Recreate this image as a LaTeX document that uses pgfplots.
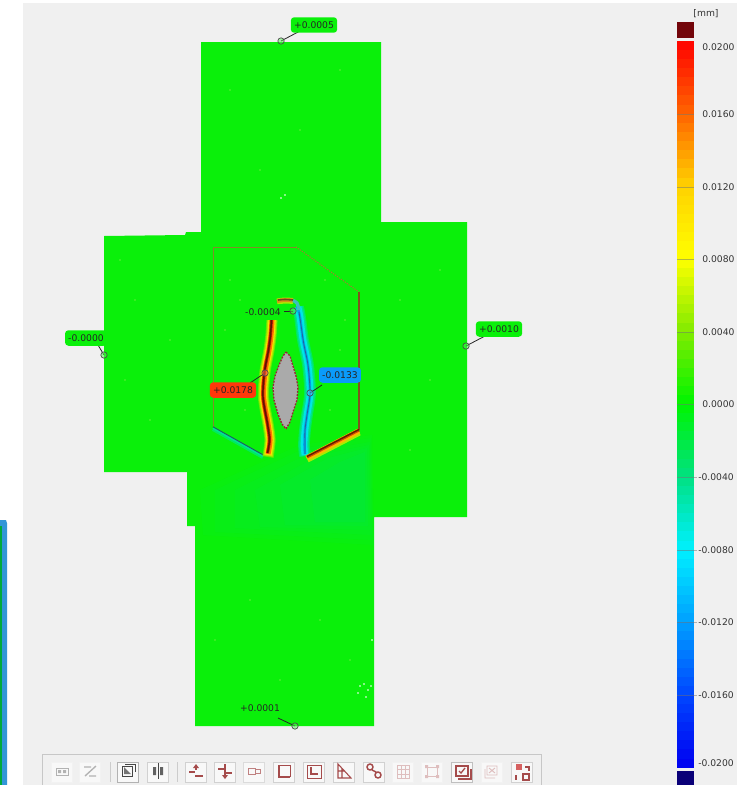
\documentclass[border=0pt]{standalone}
\usepackage{pgfplots}
\pgfplotsset{compat=1.18}
\usepackage{fontspec}
\setmainfont{DejaVu Sans}
\definecolor{panel}{RGB}{240,240,240}
\definecolor{mapg}{RGB}{10,240,10}
\definecolor{tealA}{RGB}{0,225,120}
\definecolor{iconr}{RGB}{165,75,75}
\definecolor{iconoff}{RGB}{222,190,190}
\definecolor{icongr}{RGB}{70,70,70}
\definecolor{labred}{RGB}{255,55,10}
\definecolor{labblue}{RGB}{10,155,250}
\definecolor{c0}{RGB}{95,235,0}
\definecolor{c1}{RGB}{170,235,0}
\definecolor{c2}{RGB}{250,225,0}
\definecolor{c3}{RGB}{255,120,0}
\definecolor{c4}{RGB}{190,30,0}
\definecolor{c5}{RGB}{95,20,0}
\definecolor{b0}{RGB}{0,235,90}
\definecolor{b1}{RGB}{0,225,150}
\definecolor{b2}{RGB}{0,230,230}
\definecolor{b3}{RGB}{0,165,235}
\definecolor{b4}{RGB}{35,105,150}
\newcommand{\ZZbtn}[2]{\draw[draw=#2,fill=white!50!panel,line width=0.5pt] ({#1-10.5},762) rectangle ({#1+10.5},782);}
\newcommand{\ZZlab}[8]{%
  \draw[black!85,line width=0.6pt] (#1,#2) -- (#3,#4);
  \draw[black!70,fill=#7!70!white,fill opacity=0.5,line width=0.5pt] (#1,#2) circle[radius=3.2];
  \node[fill=#7,rounded corners=2.5pt,inner xsep=2.4pt,inner ysep=3.2pt,text=black!85,font=\fontsize{6.9}{8}\selectfont] at (#5,#6) {#8};}
\newcommand{\ZZtick}[3]{\node[anchor=west,text=black!80,inner sep=0pt,font=\fontsize{6.9}{8}\selectfont] at (#1,#2) {#3};}
\begin{document}
\begin{tikzpicture}
\begin{axis}[
  scale only axis, width=564.75pt, height=588.75pt,
  xmin=0, xmax=753, ymin=0, ymax=785, y dir=reverse,
  hide axis, clip=true,
  colormap={dev}{rgb255=(0,0,240) rgb255=(0,70,255) rgb255=(0,160,255) rgb255=(0,240,255) rgb255=(0,225,130) rgb255=(0,245,0) rgb255=(130,235,0) rgb255=(255,255,0) rgb255=(255,210,0) rgb255=(255,100,0) rgb255=(255,0,0)},
  point meta min=-20, point meta max=20,
]
\addplot[draw=none,fill=white] coordinates {(0,0)(753,0)(753,785)(0,785)} --cycle;
\draw[white,line width=0pt] (0,0) rectangle (753,785);
\addplot[draw=none,fill=panel] coordinates {(23,3)(737,3)(737,785)(23,785)} --cycle;
\addplot[draw=none,fill={rgb,255:red,50;green,150;blue,215}] coordinates {(0,520)(6,520)(7,523)(7,785)(0,785)} --cycle;
\addplot[draw=none,fill={rgb,255:red,0;green,170;blue,60}] coordinates {(0,526)(1.5,526)(1.5,785)(0,785)} --cycle;
\addplot[draw=none,fill=mapg] coordinates {(201,42)(381,42)(381,222)(467,222)(467,517)(374,517)(374,726)(195,726)(195,526)(187,526)(187,472)(104,472)(104,236)(185,235)(186,232)(201,232)} --cycle;
\addplot[draw=none,fill=tealA,opacity=0.06] coordinates {(200,490)(300,445)(372,435)(374,545)(203,535)} --cycle;
\addplot[draw=none,fill=tealA,opacity=0.06] coordinates {(215,490)(305,448)(371,438)(373,540)(215,532)} --cycle;
\addplot[draw=none,fill=tealA,opacity=0.07] coordinates {(235,490)(312,452)(370,442)(372,535)(235,528)} --cycle;
\addplot[draw=none,fill=tealA,opacity=0.07] coordinates {(255,490)(320,455)(369,445)(370,530)(260,527)} --cycle;
\addplot[draw=none,fill=tealA,opacity=0.09] coordinates {(280,485)(328,458)(367,448)(368,526)(285,525)} --cycle;
\addplot[draw=none,fill=tealA,opacity=0.11] coordinates {(310,480)(340,462)(365,452)(365,522)(315,522)} --cycle;
\addplot[only marks,mark=*,mark size=0.45pt,white,opacity=0.8] coordinates {(360,686)(364,684)(368,690)(358,693)(366,697)(371,686)(285,195)(281,198)(372,640)};
\addplot[only marks,mark=*,mark size=0.3pt,color={rgb,255:red,90;green,240;blue,50}] coordinates {(120,260)(135,300)(150,420)(125,380)(170,340)(230,280)(240,300)(225,330)(245,410)(325,280)(345,320)(330,410)(340,350)(400,300)(430,380)(410,450)(440,270)(230,90)(300,130)(340,70)(260,170)(320,620)(250,600)(280,680)(215,640)(350,660)};
\addplot[line width=0.6pt,color={rgb,255:red,130;green,140;blue,40}] coordinates {(213,427)(213,247)(296,247)};
\addplot[line width=0.8pt,densely dotted,color={rgb,255:red,170;green,120;blue,50}] coordinates {(296,247)(359,292)};
\addplot[line width=0.8pt,color={rgb,255:red,130;green,80;blue,30}] coordinates {(359,292)(359,430)};
\addplot[line width=3pt,color=b0] coordinates {(213,429)(263,457)};
\addplot[line width=1.6pt,color=b1] coordinates {(213,428)(263,456)};
\addplot[line width=0.7pt,color={rgb,255:red,30;green,95;blue,95}] coordinates {(213,426.8)(263,454.8)};
\addplot[smooth,line width=8.4pt,color=c0] coordinates {(272,320)(271,335)(269,350)(265,372)(263.5,397)(268,424)(270,440)(268,457)};
\addplot[smooth,line width=7pt,color=c1] coordinates {(272,320)(271,335)(269,350)(265,372)(263.5,397)(268,424)(270,440)(268,456)};
\addplot[smooth,line width=5.4pt,color=c2] coordinates {(272,320)(271,335)(269,350)(265,372)(263.5,397)(268,424)(270,440)(268,455)};
\addplot[smooth,line width=3.8pt,color=c3] coordinates {(272,320)(271,335)(269,350)(265,372)(263.5,397)(268,424)(270,440)(268,454)};
\addplot[smooth,line width=2.2pt,color=c4] coordinates {(271.5,320)(270.5,335)(268.5,350)(264.5,372)(263,397)(267.5,424)(269.5,440)(267.5,453)};
\addplot[smooth,line width=1.1pt,color=c5] coordinates {(271.5,320)(270.5,335)(268.5,350)(264.5,372)(263,397)(267.5,424)(269.5,440)(267.5,453)};
\addplot[smooth,line width=8.8pt,color=b0] coordinates {(298,307)(300,317)(303,340)(308,365)(310,393)(307,415)(305,430)(304,445)(305,456)};
\addplot[smooth,line width=7pt,color=b1] coordinates {(298,307)(300,317)(303,340)(308,365)(310,393)(307,415)(305,430)(304,445)(305,456)};
\addplot[smooth,line width=5pt,color=b2] coordinates {(298,307)(300,317)(303,340)(308,365)(310,393)(307,415)(305,430)(304,445)(305,455)};
\addplot[smooth,line width=1.9pt,color=b3] coordinates {(297,306)(300,317)(303,340)(308,365)(310,393)(307,415)(305,430)(304.5,445)(305,454)};
\addplot[smooth,line width=0.6pt,color=b4] coordinates {(299,312)(301,325)(304,345)(308,365)(310,393)(307,415)(305,430)(305,445)(305,454)};
\addplot[smooth,line width=4.5pt,color=c1] coordinates {(277,301.5)(285,300.5)(293,301)};
\addplot[smooth,line width=3pt,color={rgb,255:red,210;green,150;blue,20}] coordinates {(277,301)(285,300)(293,300.5)};
\addplot[smooth,line width=2.5pt,color={rgb,255:red,60;green,190;blue,190}] coordinates {(293,300.5)(297,303)(299,310)};
\addplot[smooth,line width=1.2pt,color={rgb,255:red,110;green,70;blue,30}] coordinates {(278,300)(285,299.5)(293,300)};
\addplot[line width=5.5pt,color=c1] coordinates {(307,459)(359,432)};
\addplot[line width=3.8pt,color={rgb,255:red,255;green,180;blue,0}] coordinates {(307,458)(359,431)};
\addplot[line width=2.2pt,color={rgb,255:red,210;green,70;blue,0}] coordinates {(307,457)(359,430)};
\addplot[line width=1pt,color={rgb,255:red,90;green,35;blue,0}] coordinates {(307,456.5)(359,429.5)};
\addplot[fill={rgb,255:red,170;green,170;blue,170},draw={rgb,255:red,150;green,40;blue,50},line width=1pt,dash pattern=on 1.4pt off 1pt] coordinates {(286,352)(290,356)(293,366)(296,376)(298,387)(297,400)(293,412)(290,422)(286,429)(282,424)(278,414)(274,400)(273,387)(275,376)(279,365)(283,356)} --cycle;
\ZZlab{281}{41}{300}{31}{314}{25}{mapg}{+0.0005}
\ZZlab{104}{355}{98}{345}{86}{338}{mapg}{-0.0000}
\ZZlab{466}{346}{485}{336}{499}{329}{mapg}{+0.0010}
\ZZlab{293}{311}{284}{311}{263}{312}{mapg}{-0.0004}
\ZZlab{265}{373}{250}{383}{233}{390}{labred}{+0.0178}
\ZZlab{310}{393}{322}{385}{340}{375}{labblue}{-0.0133}
\ZZlab{295}{726}{278}{718}{260}{708}{mapg}{+0.0001}
\addplot[draw=none,fill={rgb,255:red,115;green,5;blue,10}] coordinates {(677,22)(694,22)(694,38)(677,38)} --cycle;
\addplot[draw=none,fill={rgb,255:red,10;green,0;blue,120}] coordinates {(677,771)(694,771)(694,785)(677,785)} --cycle;
\addplot[mesh,line width=12.75pt,line cap=butt,point meta=explicit] table[x=x,y=y,meta=m] {
x y m
685.5 41 20
685.5 50 19.5
685.5 59 19
685.5 68 18.5
685.5 77 18
685.5 86 17.5
685.5 95 17
685.5 104.5 16.5
685.5 114 16
685.5 123 15.5
685.5 132 15
685.5 141 14.5
685.5 150 14
685.5 159 13.5
685.5 168 13
685.5 177.5 12.5
685.5 187 12
685.5 196 11.5
685.5 205 11
685.5 214 10.5
685.5 223 10
685.5 232 9.5
685.5 241 9
685.5 250 8.5
685.5 259 8
685.5 268 7.5
685.5 277 7
685.5 286 6.5
685.5 295 6
685.5 304 5.5
685.5 313 5
685.5 322.5 4.5
685.5 332 4
685.5 341 3.5
685.5 350 3
685.5 359 2.5
685.5 368 2
685.5 377 1.5
685.5 386 1
685.5 395 0.5
685.5 404 0
685.5 413 -0.5
685.5 422 -1
685.5 431 -1.5
685.5 440 -2
685.5 449.5 -2.5
685.5 459 -3
685.5 468 -3.5
685.5 477 -4
685.5 486 -4.5
685.5 495 -5
685.5 504 -5.5
685.5 513 -6
685.5 522 -6.5
685.5 531 -7
685.5 540.5 -7.5
685.5 550 -8
685.5 559 -8.5
685.5 568 -9
685.5 577 -9.5
685.5 586 -10
685.5 595 -10.5
685.5 604 -11
685.5 613 -11.5
685.5 622 -12
685.5 631 -12.5
685.5 640 -13
685.5 649.5 -13.5
685.5 659 -14
685.5 668 -14.5
685.5 677 -15
685.5 686 -15.5
685.5 695 -16
685.5 704 -16.5
685.5 713 -17
685.5 722 -17.5
685.5 731 -18
685.5 740 -18.5
685.5 749 -19
685.5 758.5 -19.5
685.5 768 -20
};
\draw[black!55,opacity=.5,line width=0.5pt] (677,114)--(694,114) (677,187)--(694,187) (677,259)--(694,259) (677,332)--(694,332) (677,404)--(694,404);
\draw[black!55,opacity=.5,line width=0.5pt] (677,477)--(697,477) (677,550)--(697,550) (677,622)--(697,622) (677,695)--(697,695);
\node[text=black!80,inner sep=0pt,font=\fontsize{6.9}{8}\selectfont] at (706,14) {[mm]};
\ZZtick{702}{47}{0.0200}\ZZtick{702}{114}{0.0160}\ZZtick{702}{187}{0.0120}\ZZtick{702}{259}{0.0080}\ZZtick{702}{332}{0.0040}\ZZtick{702}{404}{0.0000}
\ZZtick{698}{477}{-0.0040}\ZZtick{698}{550}{-0.0080}\ZZtick{698}{622}{-0.0120}\ZZtick{698}{695}{-0.0160}\ZZtick{698}{763}{-0.0200}
\draw[draw=black!22,line width=0.6pt] (42,785) -- (42,754.5) -- (541,754.5) -- (541,785);
\ZZbtn{62}{black!5}\ZZbtn{90}{black!5}\ZZbtn{128}{black!30}\ZZbtn{158}{black!18}\ZZbtn{196}{black!18}\ZZbtn{225}{black!18}\ZZbtn{254}{black!14}\ZZbtn{284}{black!18}\ZZbtn{314}{black!18}\ZZbtn{344}{black!18}\ZZbtn{374}{black!18}\ZZbtn{403}{black!5}\ZZbtn{432}{black!5}\ZZbtn{462}{black!25}\ZZbtn{492}{black!5}\ZZbtn{522}{black!18}
\draw[black!20,line width=0.6pt] (110,762)--(110,782) (177,762)--(177,782);
\draw[black!30,line width=0.5pt] (56,768) rectangle (68,775); \fill[black!30] (58,770) rectangle (61,773) (63,770) rectangle (66,773);
\draw[black!30,line width=1pt] (85,776)--(96,766) (84,767)--(91,767) (89,776)--(96,776);
\fill[icongr!75] (124,767) -- (131,774) -- (124,774) -- cycle; \draw[icongr,line width=0.6pt] (122,766) rectangle (132,776) (125,764)--(135,764)--(135,772);
\fill[icongr!85] (153,767) rectangle (156,775) (160,767) rectangle (163,775); \draw[icongr,line width=0.4pt] (158,763)--(158,779);
\draw[iconr,line width=0.8pt] (189,772)--(195,772) (195,776)--(203,776) (196,765)--(196,770); \fill[iconr] (193,768)--(199,768)--(196,764)--cycle;
\draw[iconr,line width=0.8pt] (218,769)--(224,769) (226,773)--(232,773) (225,764)--(225,778); \fill[iconr] (222,775)--(228,775)--(225,779)--cycle;
\draw[iconr!70,line width=0.7pt] (248,768) rectangle (255,774) (255,769) rectangle (260,773);
\draw[iconr,line width=1pt] (279,765)--(279,777)--(290,777); \draw[iconr,line width=0.5pt] (279,765)--(290,765)--(290,777);
\draw[iconr,line width=0.6pt] (307,765) rectangle (321,778); \draw[iconr,line width=1.1pt] (311,767)--(311,774)--(318,774);
\draw[iconr,line width=0.8pt] (338,764)--(338,778)--(351,778)--cycle (338,771)--(345,771) (342,768)--(342,778);
\draw[iconr,line width=1.1pt] (370,767) circle[radius=3] (378,775) circle[radius=3] (372,770)--(376,772);
\draw[iconoff,line width=0.5pt] (397,765) rectangle (409,778) (397,769)--(409,769) (397,774)--(409,774) (401,765)--(401,778) (405,765)--(405,778);
\draw[iconoff,line width=0.6pt] (427,767) rectangle (437,776); \fill[iconoff] (425,765) rectangle (428,768) (436,765) rectangle (439,768) (425,775) rectangle (428,778) (436,775) rectangle (439,778);
\draw[iconr,line width=0.8pt] (456,766) rectangle (468,776) (458,779)--(471,779)--(471,769); \draw[iconr,line width=1pt] (459,771)--(461,773)--(465,768);
\draw[iconoff,line width=0.7pt] (487,766) rectangle (497,775) (485,769)--(485,778)--(495,778) (489,768)--(495,773) (495,768)--(489,773);
\fill[iconr!130!black] (516,764) rectangle (522,770); \draw[iconr,line width=0.8pt] (525,767)--(529,767)--(529,771) (516,775)--(516,780) (523,774) rectangle (529,780);
\end{axis}
\end{tikzpicture}
\end{document}
